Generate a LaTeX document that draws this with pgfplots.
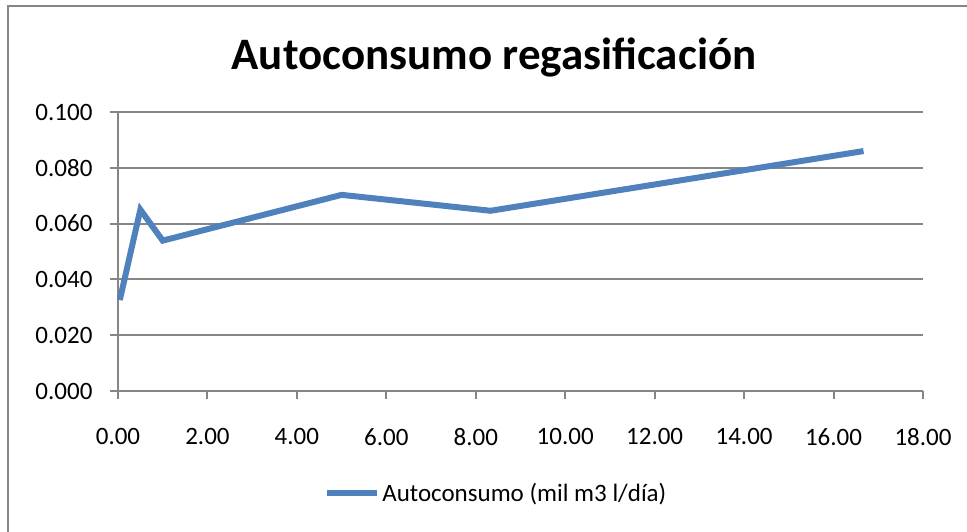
\documentclass[border=0pt]{standalone}
\usepackage{fontspec}
\setmainfont{Carlito}
\usepackage{pgfplots}
\pgfplotsset{compat=1.18}
\definecolor{gridgray}{HTML}{868686}
\definecolor{serblue}{HTML}{4F81BD}
\begin{document}
\begin{tikzpicture}[x=1pt,y=1pt]
\useasboundingbox (0,0) rectangle (967,531);
\draw[gridgray,line width=2pt] (8,-5) -- (8,525) -- (975,525);
\node[font=\fontsize{45}{54}\selectfont\bfseries] at (494,474) {Autoconsumo regasificación};
\begin{axis}[
  at={(118pt,140pt)}, anchor=south west,
  scale only axis, width=805pt, height=279pt,
  xmin=0, xmax=18, ymin=0, ymax=0.1,
  xtick={0,2,...,18}, ytick={0,0.02,...,0.1},
  axis x line*=bottom, axis y line*=left,
  axis line style={gridgray,line width=2pt,-},
  ymajorgrids, grid style={gridgray,line width=2pt},
  tick style={gridgray,line width=2pt},
  major tick length=8pt,
  xtick align=outside, ytick align=outside,
  tick label style={font=\fontsize{25}{30}\selectfont},
  /pgf/number format/assume math mode=true,
  xticklabel style={/pgf/number format/.cd,fixed,fixed zerofill,precision=2},
  yticklabel style={/pgf/number format/.cd,fixed,fixed zerofill,precision=3},
  scaled y ticks=false,
  xticklabel shift=26pt, yticklabel shift=14pt,
  clip=false,
  legend style={at={(0.47,-0.366)},anchor=center,draw=none,font=\fontsize{25}{30}\selectfont,legend columns=1},
  legend image code/.code={\draw[#1,line width=6pt] (0pt,0pt) -- (50pt,0pt);},
]
\addplot[serblue,line width=6pt,line join=miter] coordinates {
(0.04,0.0326) (0.5,0.0650) (1.0,0.0539) (5.0,0.0703) (8.33,0.0646) (16.67,0.0860)
};
\addlegendentry{Autoconsumo (mil m3 l/día)}
\end{axis}
\end{tikzpicture}
\end{document}
